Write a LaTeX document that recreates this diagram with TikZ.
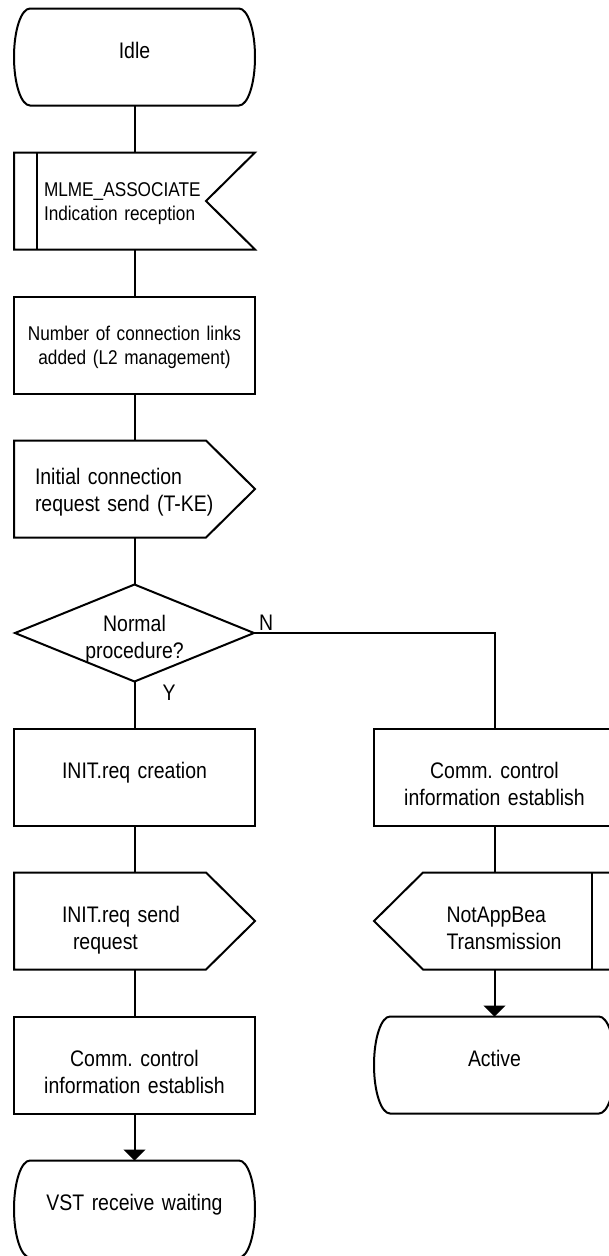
\documentclass[tikz,border=0pt]{standalone}
\usepackage{fontspec}
\setmainfont{Liberation Sans}[FakeStretch=0.865]
\usetikzlibrary{positioning,shapes.geometric,arrows.meta}
\frenchspacing
\tikzset{
  sym/.style={minimum width=241pt,minimum height=97pt,inner sep=0pt,outer sep=0pt,
    text width=235pt,align=center,text height=20pt,text depth=16.6pt},
  proc/.style={sym,draw},
  upper/.style={text height=14pt,text depth=23pt},
  smallfont/.style={font=\fontsize{19.9}{24}\selectfont},
  tip/.style={-{Triangle[width=22pt,length=11pt]}},
  lbl/.style={inner sep=0pt}
}

\begin{document}
\begin{tikzpicture}[x=1pt,y=1pt,line width=2pt,node distance=47pt,font=\fontsize{22.5}{27}\selectfont]
\useasboundingbox (0,0) rectangle (608,-1256);
\node[sym] (idle) at (134.5,-57) {Idle};
\node[sym,smallfont,upper,below=of idle,text width=181pt,align=left] (assoc) {MLME\_ASSOCIATE\\Indication reception};
\node[proc,smallfont,upper,below=of assoc] (links) {Number of connection links\\added (L2 management)};
\node[sym,upper,below=of links,text width=199pt,align=left] (initial) {Initial connection\\request send (T-KE)};
\node[draw,diamond,aspect=2.5,minimum width=239pt,minimum height=97pt,inner sep=0pt,outer sep=0pt,
  text width=110pt,align=center,text height=17pt,text depth=19.6pt,below=of initial] (normal) {Normal\\procedure?};
\node[proc,below=of normal] (creat) {INIT.req creation};
\node[sym,below=of creat,text width=145pt,align=left] (isend) {INIT.req send\\\hspace*{11pt}request};
\node[proc,below=of isend] (estab) {Comm. control\\information establish};
\node[sym,below=of estab] (vst) {VST receive waiting};
\node[proc,right=119pt of creat] (estabn) {Comm. control\\information establish};
\node[sym,below=of estabn,text width=96pt,align=left] (notapp) {NotAppBea\\Transmission};
\node[sym,below=of notapp] (active) {Active};

\foreach \s in {idle,vst,active}
  \draw ([xshift=16pt]\s.north west) -- ([xshift=-16pt]\s.north east)
    arc[start angle=90,end angle=-90,x radius=16pt,y radius=48.5pt]
    -- ([xshift=16pt]\s.south west)
    arc[start angle=270,end angle=90,x radius=16pt,y radius=48.5pt] -- cycle;
\draw (assoc.north west) -- (assoc.north east) -- ([xshift=-49pt]assoc.east)
  -- (assoc.south east) -- (assoc.south west) -- cycle;
\draw ([xshift=23pt]assoc.north west) -- ([xshift=23pt]assoc.south west);
\foreach \s in {initial,isend}
  \draw (\s.north west) -- ([xshift=-49pt]\s.north east) -- (\s.east)
    -- ([xshift=-49pt]\s.south east) -- (\s.south west) -- cycle;
\draw ([xshift=49pt]notapp.north west) -- (notapp.north east) -- (notapp.south east)
  -- ([xshift=49pt]notapp.south west) -- (notapp.west) -- cycle;
\draw ([xshift=-23pt]notapp.north east) -- ([xshift=-23pt]notapp.south east);

\draw (idle.south) -- (assoc.north);
\draw (assoc.south) -- (links.north);
\draw (links.south) -- (initial.north);
\draw (initial.south) -- (normal.north);
\draw (normal.south) -- node[lbl,near start,right=27pt] {Y} (creat.north);
\draw (normal.east) -| node[lbl,at start,above right,xshift=4pt,yshift=2pt] {N} (estabn.north);
\draw (creat.south) -- (isend.north);
\draw (isend.south) -- (estab.north);
\draw[tip] (estab.south) -- (vst.north);
\draw (estabn.south) -- (notapp.north);
\draw[tip] (notapp.south) -- (active.north);
\end{tikzpicture}
\end{document}
